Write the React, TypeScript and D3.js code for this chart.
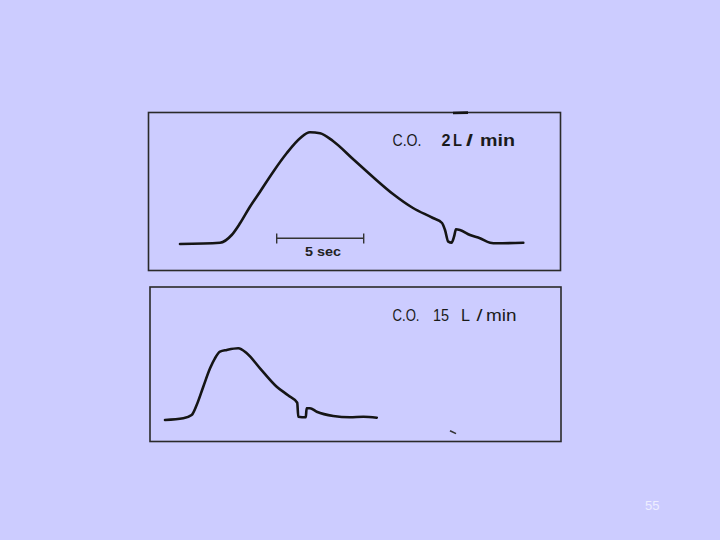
import React from "react";
import * as d3 from "d3";

// Indicator-dilution curves (time in seconds, concentration in arbitrary units)
const lowTime = [0, 2.3, 2.97, 3.45, 4.02, 4.6, 5.36, 6.13, 6.9, 7.47, 8.05, 8.79, 9.94, 11.09, 12.24, 13.39, 14.54, 15.06, 15.23, 15.42, 15.61, 15.75, 15.86, 16.09, 16.67, 17.24, 17.82, 18.2, 19.73];
const lowConc = [0, 0.13, 0.9, 2.07, 3.73, 5.23, 7.23, 9.07, 10.57, 11.17, 11.07, 10.3, 8.5, 6.7, 5.0, 3.6, 2.6, 2.1, 1.4, 0.23, 0.13, 0.73, 1.47, 1.4, 0.9, 0.57, 0.13, 0.07, 0.13];

const highTime = [0, 1.05, 1.53, 1.82, 2.2, 2.59, 2.87, 3.16, 3.55, 4.21, 4.7, 5.46, 6.42, 7.09, 7.6, 7.66, 8.09, 8.14, 8.33, 8.72, 9.67, 10.63, 11.4, 12.17];
const highConc = [-0.25, -0.08, 0.25, 1.25, 3.08, 4.92, 5.92, 6.58, 6.75, 6.92, 6.42, 4.92, 3.08, 2.2, 1.48, 0.08, 0.02, 0.92, 0.92, 0.58, 0.15, 0.02, 0.08, -0.02];

const labelLow = ["C.O.", "2", "L", "/", "min"];
const labelHigh = ["C.O.", "15", "L", "/", "min"];
const scaleBarSeconds = [0, 5];
const scaleBarLabel = "5 sec";
const pageNumber = "55";

const PX_PER_SEC = 17.4;

export default function App() {
  const xTop = d3.scaleLinear().domain([0, 20]).range([180, 180 + 20 * PX_PER_SEC]);
  const yTop = d3.scaleLinear().domain([0, 12]).range([244, 124]);
  const xBot = d3.scaleLinear().domain([0, 20]).range([165, 165 + 20 * PX_PER_SEC]);
  const yBot = d3.scaleLinear().domain([0, 12]).range([417.5, 297.5]);

  const lineTop = d3
    .line<number>()
    .x((_, i) => xTop(lowTime[i]))
    .y((d) => yTop(d))
    .curve(d3.curveMonotoneX);
  const lineBot = d3
    .line<number>()
    .x((_, i) => xBot(highTime[i]))
    .y((d) => yBot(d))
    .curve(d3.curveMonotoneX);

  const barX0 = 276.7;
  const barScale = d3.scaleLinear().domain([0, 5]).range([barX0, barX0 + 5 * PX_PER_SEC]);

  const font = "'Liberation Sans', Arial, sans-serif";
  const ink = "#151515";

  const topPos = [392.5, 441.5, 453, 466, 480];
  const topLen = [29, 9, 9, 7, 35];
  const botPos = [392.5, 433, 461, 476.5, 486];
  const botLen = [27, 16, 9, 6, 30.5];

  return (
    <svg
      width={720}
      height={540}
      style={{ position: "absolute", left: 0, top: 0, display: "block" }}
    >
      <rect x={0} y={0} width={720} height={540} fill="#ccccff" />

      {/* top panel */}
      <rect x={148.5} y={112.5} width={412} height={158} fill="none" stroke="#2a2a2a" strokeWidth={1.6} />
      <path d="M453,113 L468,112.6" stroke={ink} strokeWidth={2.6} />
      <path d={lineTop(lowConc) || ""} fill="none" stroke={ink} strokeWidth={2.6} strokeLinejoin="round" strokeLinecap="round" />
      <g stroke="#333" strokeWidth={1.4}>
        <line x1={barScale(scaleBarSeconds[0])} x2={barScale(scaleBarSeconds[1])} y1={238.3} y2={238.3} />
        <line x1={barScale(scaleBarSeconds[0])} x2={barScale(scaleBarSeconds[0])} y1={233.5} y2={243.5} />
        <line x1={barScale(scaleBarSeconds[1])} x2={barScale(scaleBarSeconds[1])} y1={233.5} y2={243.5} />
      </g>
      <text x={305} y={255.5} fontFamily={font} fontSize={13} fontWeight={600} fill="#222" textLength={36} lengthAdjust="spacingAndGlyphs">
        {scaleBarLabel}
      </text>
      {labelLow.map((t, i) => (
        <text
          key={"l" + i}
          x={topPos[i]}
          y={145.5}
          fontFamily={font}
          fontSize={16.5}
          fontWeight={i === 0 ? 400 : 700}
          fill="#1a1a1a"
          textLength={topLen[i]}
          lengthAdjust="spacingAndGlyphs"
        >
          {t}
        </text>
      ))}

      {/* bottom panel */}
      <rect x={150} y={287} width={411} height={154.5} fill="none" stroke="#2a2a2a" strokeWidth={1.6} />
      <path d={lineBot(highConc) || ""} fill="none" stroke={ink} strokeWidth={2.6} strokeLinejoin="round" strokeLinecap="round" />
      <line x1={450} y1={430.7} x2={456} y2={433.6} stroke="#333" strokeWidth={1.6} />
      {labelHigh.map((t, i) => (
        <text
          key={"h" + i}
          x={botPos[i]}
          y={321}
          fontFamily={font}
          fontSize={16}
          fill="#1a1a1a"
          textLength={botLen[i]}
          lengthAdjust="spacingAndGlyphs"
        >
          {t}
        </text>
      ))}

      <text x={645} y={510} fontFamily={font} fontSize={13} fill="#eeeeff">
        {pageNumber}
      </text>
    </svg>
  );
}
